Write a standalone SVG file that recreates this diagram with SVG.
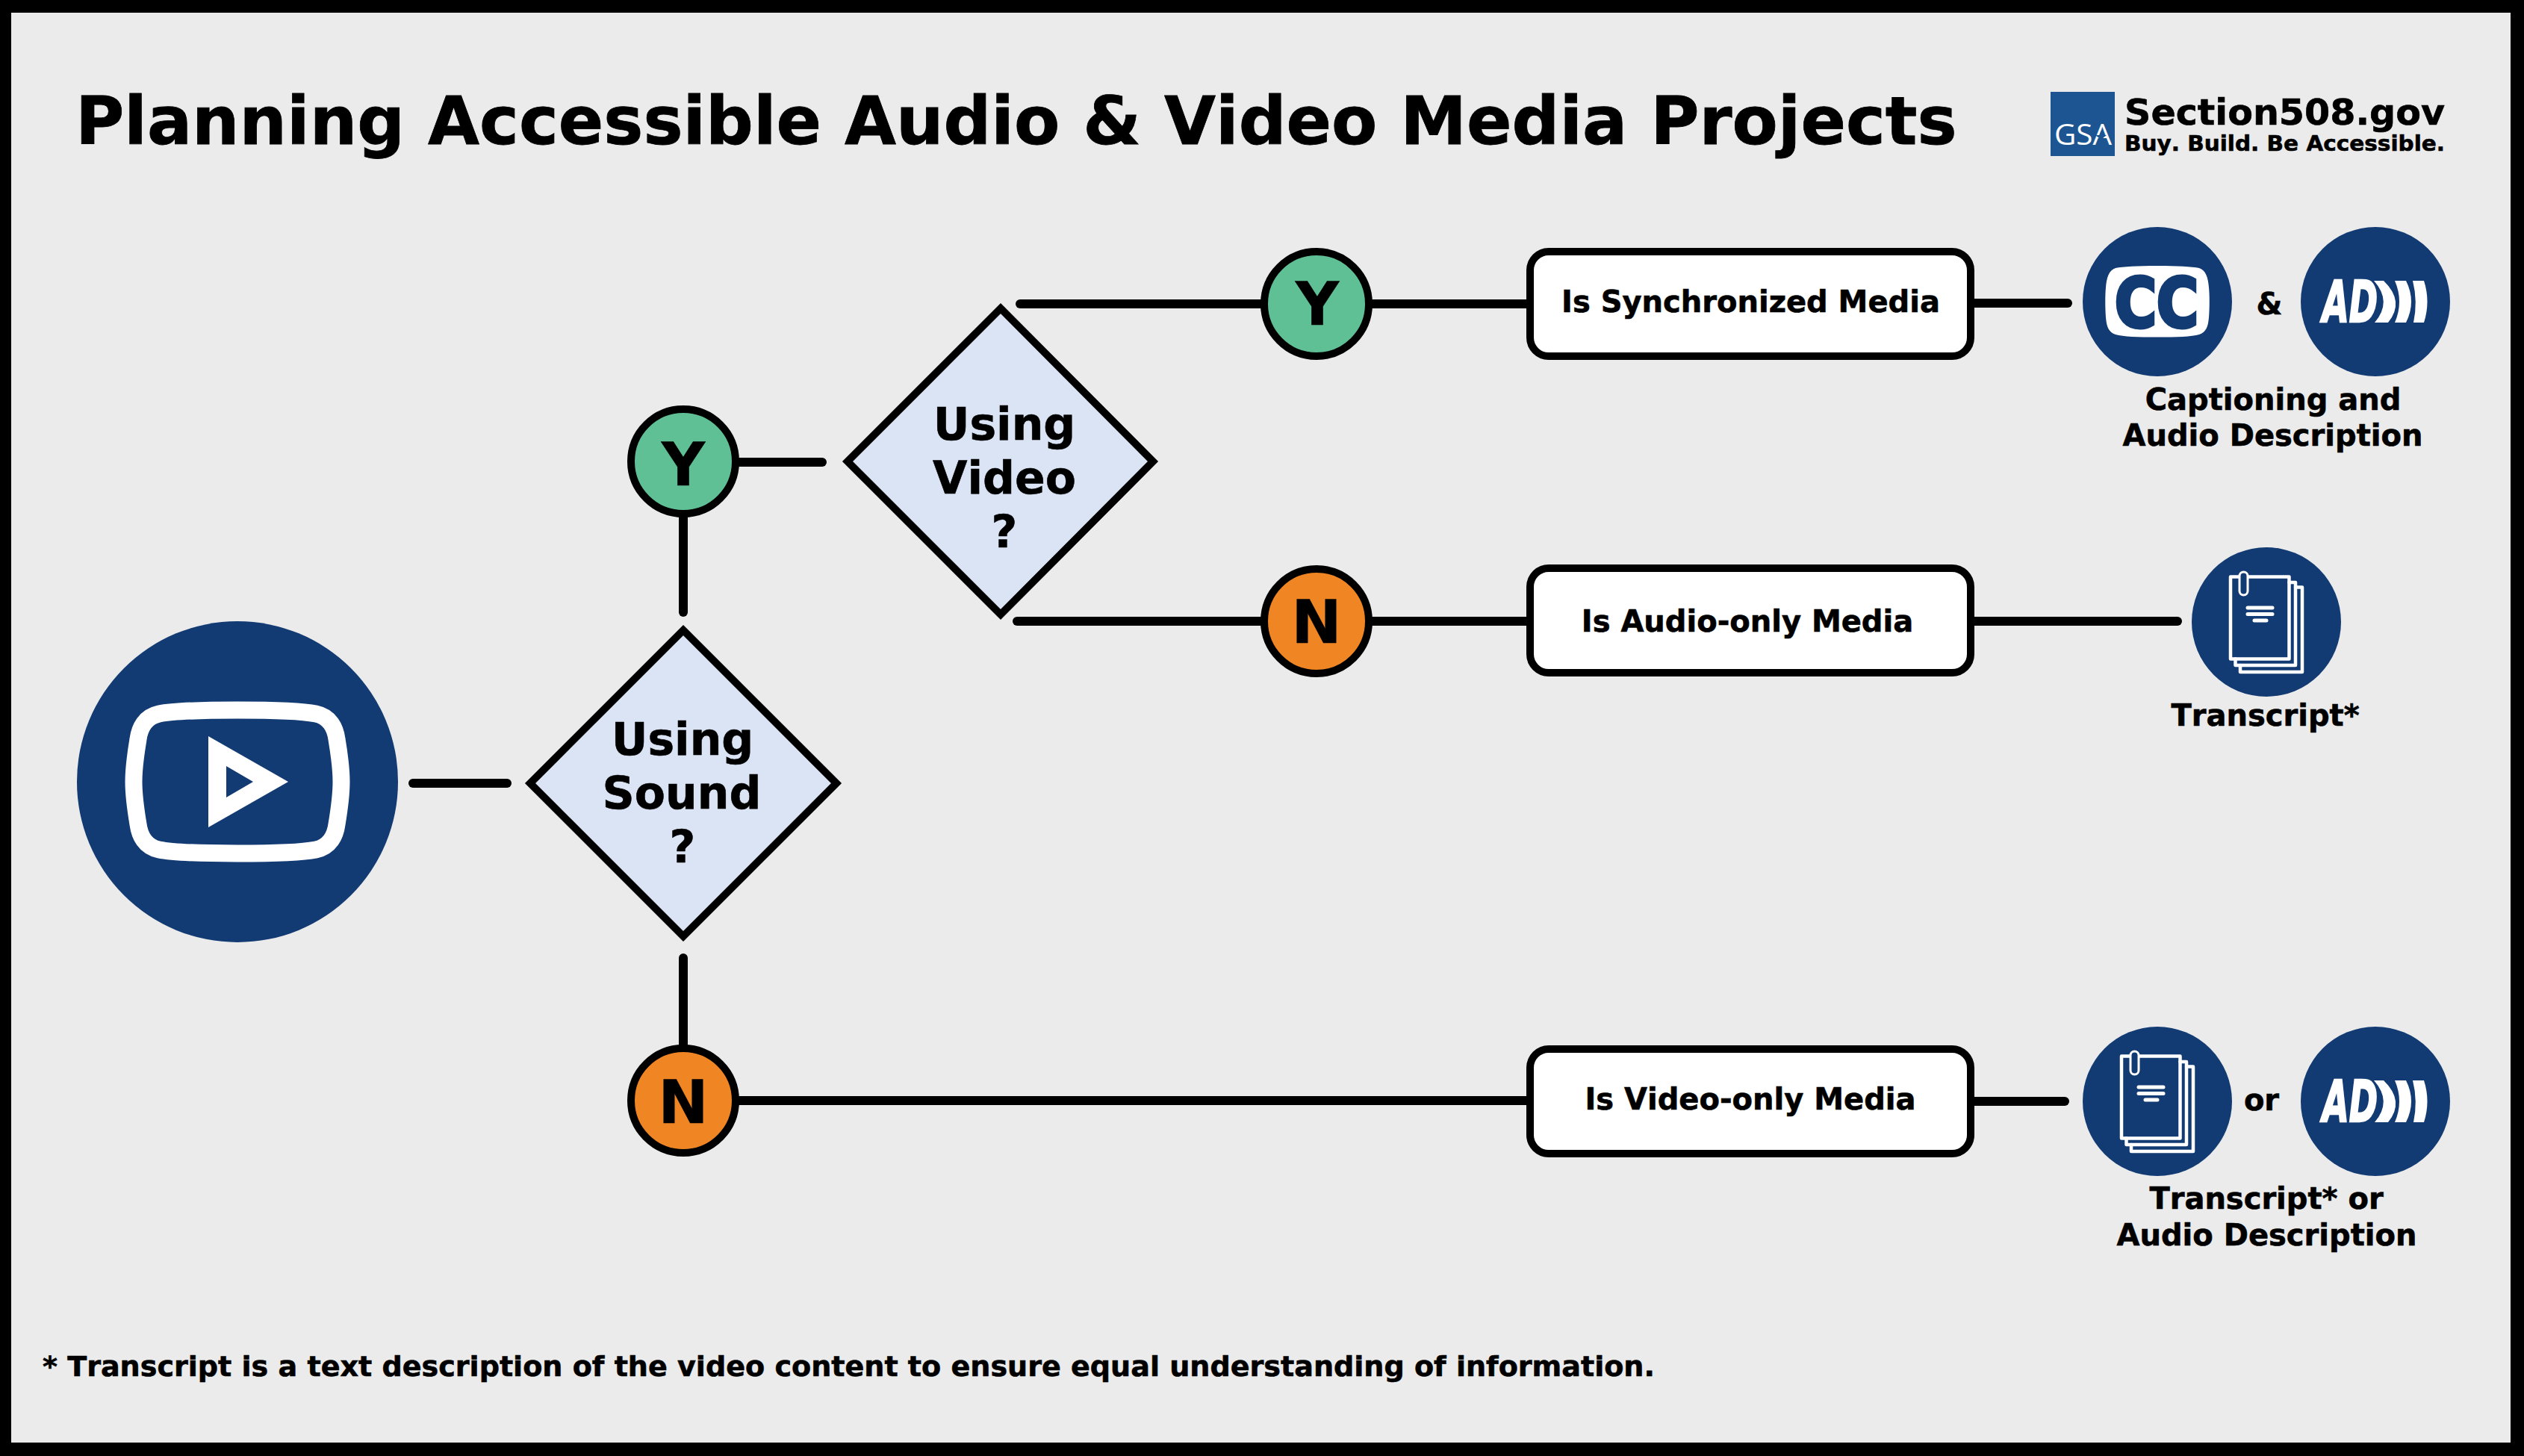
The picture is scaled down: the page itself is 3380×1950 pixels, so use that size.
<svg xmlns="http://www.w3.org/2000/svg" xmlns:xlink="http://www.w3.org/1999/xlink" width="3380" height="1950" viewBox="0 0 3380 1950">
<style>
text{font-family:"DejaVu Sans","Liberation Sans",sans-serif;font-weight:700;fill:#000;font-kerning:none;stroke:#000;stroke-width:.6}
.c{text-anchor:middle}
.conn{stroke:#000;stroke-width:12;stroke-linecap:round;fill:none}
.dia{fill:#dae4f4;stroke:#000;stroke-width:10;stroke-linejoin:miter}
.yes{fill:#5fc096;stroke:#000;stroke-width:10}
.no{fill:#ef8623;stroke:#000;stroke-width:10}
.box{fill:#fff;stroke:#000;stroke-width:10}
.navy{fill:#133b73}
.q{font-size:60px}
.yn{font-size:80px}
.bt{font-size:40px}
.cap{font-size:40px}
.pg{fill:none;stroke:#fff;stroke-width:4.5;stroke-linejoin:round;stroke-linecap:round}
</style>
<defs>
<g id="ad-mark">
<circle class="navy" r="100"/>
<text x="-71" y="27" style="font-size:76px;font-style:italic;fill:#fff;stroke:#fff;stroke-width:2.500" textLength="74" lengthAdjust="spacingAndGlyphs">AD</text>
<path fill="#fff" d="M-2,-28H11Q40,0 17,28H-1Q23,0 -2,-28Z"/>
<path fill="#fff" d="M26,-28H41Q55,0 41,28H26Q38,0 26,-28Z"/>
<path fill="#fff" d="M50,-28H65Q74,0 65,28H51Q57,0 50,-28Z"/>
</g>
<g id="transcript-mark">
<circle class="navy" r="100"/>
<path class="pg" d="M-48,-60.500H30.500V49.500H-48Z"/>
<path class="pg" d="M30.500,-53H39V58H-41.500V49.500"/>
<path class="pg" d="M39,-46.500H48V67H-35V58"/>
<path class="pg" style="stroke-width:5" d="M-25,-19H8M-25,-10.500H8M-16,-2H0"/>
<rect x="-36" y="-67" width="11" height="31" rx="5.500" fill="#133b73" stroke="#fff" stroke-width="3"/>
<path d="M-30.500,-60V-44" stroke="#133b73" stroke-width="2" fill="none"/>
</g>
</defs>
<rect width="3380" height="1950" fill="#000"/>
<rect x="15" y="17" width="3347" height="1915" fill="#ebebeb"/>
<text id="title" x="101" y="192.500" font-size="89.200" style="stroke-width:.8">Planning Accessible Audio &amp; Video Media Projects</text>
<g id="gsa-logo">
<rect x="2746" y="123" width="86" height="86" fill="#1d5592"/>
<text x="2751" y="194" style="font-family:'Open Sans',sans-serif;font-weight:400;font-size:38px;fill:#fff;stroke:none" textLength="77" lengthAdjust="spacingAndGlyphs">GSA</text>
<polygon fill="#1d5592" points="2813.500,175 2815.500,181 2821,181 2816.500,184.500 2818,190 2813.500,186.500 2809,190 2810.500,184.500 2806,181 2811.500,181"/>
<text x="2845" y="166.500" font-size="48" textLength="429" lengthAdjust="spacingAndGlyphs">Section508.gov</text>
<text x="2845" y="202" font-size="29" textLength="429" lengthAdjust="spacingAndGlyphs">Buy. Build. Be Accessible.</text>
</g>
<g id="connectors">
<path class="conn" d="M553,1049H679"/>
<path class="conn" d="M915,690V820"/>
<path class="conn" d="M985,619H1101"/>
<path class="conn" d="M1366,407H1700"/>
<path class="conn" d="M1362,832H1700"/>
<path class="conn" d="M1830,407H2050"/>
<path class="conn" d="M1830,832H2050"/>
<path class="conn" d="M2640,406H2769"/>
<path class="conn" d="M2640,832H2916"/>
<path class="conn" d="M915,1283V1400"/>
<path class="conn" d="M985,1474H2050"/>
<path class="conn" d="M2640,1475H2765"/>
</g>
<g id="start">
<circle class="navy" cx="318" cy="1047" r="215"/>
<path transform="translate(318,1047)" fill="none" stroke="#fff" stroke-width="23" d="M0,-96C45,-96 85,-95 105,-91C124,-87 131,-72 133,-57C137,-33 139,-15 139,0C139,15 137,33 133,57C131,72 124,87 105,91C85,95 45,96 0,96C-45,96 -85,95 -105,91C-124,87 -131,72 -133,57C-137,33 -139,15 -139,0C-139,-15 -137,-33 -133,-57C-131,-72 -124,-87 -105,-91C-85,-95 -45,-96 0,-96Z"/>
<path fill="#fff" fill-rule="evenodd" d="M279,986L386,1047L279,1108ZM303,1026V1068L339,1047Z"/>
</g>
<g id="q-sound">
<polygon class="dia" points="915,844 1120,1049 915,1254 710,1049"/>
<text class="c q" x="914" y="1011">Using</text>
<text class="c q" x="913" y="1082.500">Sound</text>
<text class="c q" x="914" y="1154.500">?</text>
</g>
<g id="q-video">
<polygon class="dia" points="1340,413 1544,618 1340,823 1135,618"/>
<text class="c q" x="1345" y="589">Using</text>
<text class="c q" x="1345" y="660.500">Video</text>
<text class="c q" x="1345" y="733">?</text>
</g>
<g id="y-sound"><circle class="yes" cx="915" cy="618" r="70"/><text class="c yn" x="915" y="649.500">Y</text></g>
<g id="n-sound"><circle class="no" cx="915" cy="1474" r="70"/><text class="c yn" x="915" y="1504">N</text></g>
<g id="y-video"><circle class="yes" cx="1763" cy="407" r="70"/><text class="c yn" x="1764" y="435">Y</text></g>
<g id="n-video"><circle class="no" cx="1763" cy="832" r="70"/><text class="c yn" x="1763" y="860.500">N</text></g>
<g id="box-sync"><rect class="box" x="2049" y="337" width="590" height="140" rx="25"/><text class="c bt" x="2344.500" y="417.500">Is Synchronized Media</text></g>
<g id="box-audio"><rect class="box" x="2049" y="761" width="590" height="140" rx="25"/><text class="c bt" x="2340" y="845.500">Is Audio-only Media</text></g>
<g id="box-video"><rect class="box" x="2049" y="1405" width="590" height="140" rx="25"/><text class="c bt" x="2344" y="1486">Is Video-only Media</text></g>
<g id="cc">
<circle class="navy" cx="2889" cy="404" r="100"/>
<path fill="#fff" d="M2889,356C2915,356 2935,357 2945,359C2954,362 2957,372 2958,385C2959,395 2959,412 2958,425C2957,438 2954,445 2945,448C2935,451 2915,451.500 2889,451.500C2863,451.500 2843,451 2833,448C2824,445 2821,438 2820,425C2819,412 2819,395 2820,385C2821,372 2824,362 2833,359C2843,357 2863,356 2889,356Z"/>
<text x="2832" y="438" style="font-size:90px;fill:#133b73;stroke:#133b73;stroke-width:5" textLength="112" lengthAdjust="spacingAndGlyphs">CC</text>
</g>
<text class="c cap" x="3039" y="420.500">&amp;</text>
<use id="ad-1" xlink:href="#ad-mark" x="3181" y="404"/>
<text class="c cap" x="3044" y="548.500">Captioning and</text>
<text class="c cap" x="3043.500" y="597">Audio Description</text>
<use id="transcript-1" xlink:href="#transcript-mark" x="3035" y="833"/>
<text class="c cap" x="3033.500" y="971.500">Transcript*</text>
<use id="transcript-2" xlink:href="#transcript-mark" x="2889" y="1475"/>
<text class="c cap" x="3028.500" y="1487">or</text>
<use id="ad-2" xlink:href="#ad-mark" x="3181" y="1475"/>
<text class="c cap" x="3035" y="1619">Transcript* or</text>
<text class="c cap" x="3035.500" y="1667.500">Audio Description</text>
<text id="footnote" x="57" y="1842.500" font-size="38.100">* Transcript is a text description of the video content to ensure equal understanding of information.</text>
</svg>
